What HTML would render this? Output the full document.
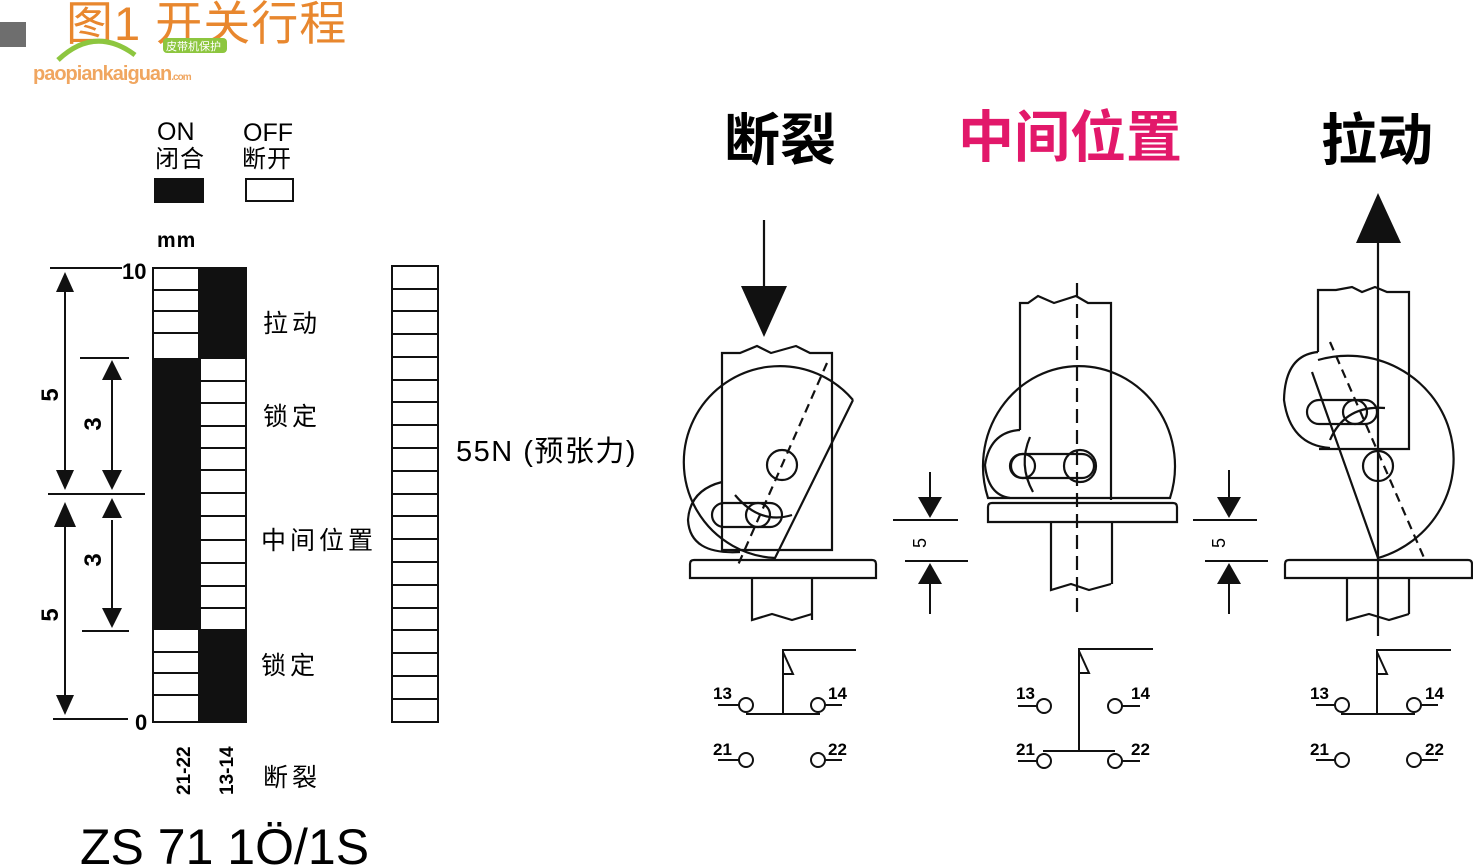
<!DOCTYPE html>
<html><head><meta charset="utf-8"><style>
html,body{margin:0;padding:0;background:#fff;}
svg{display:block;}
text{font-family:"Liberation Sans","Noto Sans CJK SC",sans-serif;}
</style></head><body>
<svg width="1473" height="866" viewBox="0 0 1473 866" xmlns="http://www.w3.org/2000/svg">
<!-- header -->
<rect x="0" y="22" width="26" height="25" fill="#6e6e6e"/>
<text x="66" y="40" font-size="47" fill="#e8872e" letter-spacing="1">图1 开关行程</text>
<path d="M58 60 Q95 25 135 55" fill="none" stroke="#8dc63f" stroke-width="5"/>
<rect x="163" y="38" width="64" height="15" rx="4" fill="#8dc63f"/>
<text x="166" y="50" font-size="11" fill="#fff">皮带机保护</text>
<text x="33" y="80" font-size="20" font-weight="bold" fill="#f0a660" letter-spacing="-1">paopiankaiguan<tspan font-size="10">.com</tspan></text>

<!-- legend -->
<text x="157" y="140" font-size="25">ON</text>
<text x="243" y="141" font-size="25">OFF</text>
<text x="155" y="167" font-size="24" letter-spacing="1">闭合</text>
<text x="242" y="167" font-size="24" letter-spacing="1">断开</text>
<rect x="154" y="178" width="50" height="25" fill="#111"/>
<rect x="246" y="179" width="47" height="22" fill="none" stroke="#111" stroke-width="2"/>
<text x="157" y="247" font-size="21" font-weight="bold" letter-spacing="1">mm</text>

<g stroke="#111" stroke-width="2" fill="none">
<rect x="153" y="268" width="46" height="454"/>
<rect x="199" y="268" width="47" height="454"/>
<line x1="153" y1="290" x2="199" y2="290"/><line x1="153" y1="311" x2="199" y2="311"/><line x1="153" y1="333" x2="199" y2="333"/>
<line x1="153" y1="652" x2="199" y2="652"/><line x1="153" y1="673" x2="199" y2="673"/><line x1="153" y1="695" x2="199" y2="695"/>
</g>
<rect x="153" y="358" width="48" height="272" fill="#111"/>
<rect x="199" y="268" width="48" height="91" fill="#111"/>
<rect x="199" y="629" width="48" height="94" fill="#111"/>
<g stroke="#111" stroke-width="2">
<line x1="201" y1="381" x2="246" y2="381"/><line x1="201" y1="403" x2="246" y2="403"/><line x1="201" y1="426" x2="246" y2="426"/>
<line x1="201" y1="448" x2="246" y2="448"/><line x1="201" y1="470" x2="246" y2="470"/><line x1="201" y1="493" x2="246" y2="493"/>
<line x1="201" y1="516" x2="246" y2="516"/><line x1="201" y1="540" x2="246" y2="540"/><line x1="201" y1="563" x2="246" y2="563"/>
<line x1="201" y1="586" x2="246" y2="586"/><line x1="201" y1="608" x2="246" y2="608"/>
</g>
<g stroke="#111" stroke-width="2" fill="none">
<rect x="392" y="266" width="46" height="456"/>
<path d="M392 289h46M392 311h46M392 334h46M392 357h46M392 380h46M392 402h46M392 425h46M392 448h46M392 471h46M392 494h46M392 516h46M392 539h46M392 562h46M392 585h46M392 608h46M392 630h46M392 653h46M392 676h46M392 699h46"/>
</g>
<g stroke="#111" stroke-width="2">
<line x1="50" y1="268" x2="122" y2="268"/>
<line x1="48" y1="494" x2="145" y2="494"/>
<line x1="53" y1="719" x2="128" y2="719"/>
<line x1="80" y1="358" x2="129" y2="358"/>
<line x1="82" y1="631" x2="129" y2="631"/>
<line x1="65" y1="290" x2="65" y2="470"/>
<line x1="65" y1="525" x2="65" y2="698"/>
<line x1="112" y1="378" x2="112" y2="470"/>
<line x1="112" y1="520" x2="112" y2="610"/>
</g>
<g fill="#111">
<polygon points="65,272 56,292 74,292"/><polygon points="65,490 56,470 74,470"/>
<polygon points="65,502 54,527 76,527"/><polygon points="65,715 56,695 74,695"/>
<polygon points="112,360 102,380 122,380"/><polygon points="112,490 102,470 122,470"/>
<polygon points="112,498 102,518 122,518"/><polygon points="112,628 102,608 122,608"/>
</g>
<text x="122" y="279" font-size="22" font-weight="bold">10</text>
<text x="135" y="730" font-size="22" font-weight="bold">0</text>
<text transform="translate(58,395) rotate(-90)" font-size="24" font-weight="bold" text-anchor="middle">5</text>
<text transform="translate(58,615) rotate(-90)" font-size="24" font-weight="bold" text-anchor="middle">5</text>
<text transform="translate(101,424) rotate(-90)" font-size="24" font-weight="bold" text-anchor="middle">3</text>
<text transform="translate(101,560) rotate(-90)" font-size="24" font-weight="bold" text-anchor="middle">3</text>
<text transform="translate(190,795) rotate(-90)" font-size="19" font-weight="bold">21-22</text>
<text transform="translate(233,795) rotate(-90)" font-size="19" font-weight="bold">13-14</text>
<g font-size="25" letter-spacing="4">
<text x="263" y="332">拉动</text>
<text x="263" y="425">锁定</text>
<text x="261" y="549">中间位置</text>
<text x="261" y="674">锁定</text>
<text x="263" y="786">断裂</text>
</g>
<text x="456" y="461" font-size="29" letter-spacing="1.5">55N (预张力)</text>
<text x="80" y="864" font-size="50">ZS 71 1Ö/1S</text>

<!-- headings -->
<text x="780" y="160" font-size="56" font-weight="bold" text-anchor="middle">断裂</text>
<text x="1070" y="157" font-size="56" font-weight="bold" text-anchor="middle" fill="#e2186a">中间位置</text>
<text x="1377" y="160" font-size="56" font-weight="bold" text-anchor="middle">拉动</text>

<!-- mechanism 1 -->
<g stroke="#111" stroke-width="2.2" fill="none">
<line x1="764" y1="220" x2="764" y2="290"/>
<path d="M722 550V353h18l17-7 14 7 25-7 14 7h22v197z"/>
<path d="M853 400A96 96 0 1 0 775 558L853 400"/>
<path d="M722 482Q690 490 688 520Q690 555 740 552"/>
<rect x="712" y="503" width="70" height="24" rx="12"/>
<circle cx="758" cy="515" r="12"/>
<circle cx="782" cy="465" r="15"/>
<path d="M735 495Q760 525 792 515"/>
<line x1="827" y1="363" x2="738" y2="565" stroke-dasharray="9,6"/>
<path d="M690 578v-14q0-4 4-4h178q4 0 4 4v14z"/>
<path d="M752 578v42l20-6 20 6 20-6M812 578v42"/>
</g>
<polygon points="741,286 787,286 764,337" fill="#111"/>

<g stroke="#111" stroke-width="2">
<line x1="893" y1="520" x2="958" y2="520"/><line x1="905" y1="561" x2="968" y2="561"/>
<line x1="930" y1="472" x2="930" y2="500"/><line x1="930" y1="582" x2="930" y2="614"/>
<line x1="1193" y1="520" x2="1257" y2="520"/><line x1="1205" y1="561" x2="1268" y2="561"/>
<line x1="1229" y1="470" x2="1229" y2="500"/><line x1="1229" y1="582" x2="1229" y2="614"/>
</g>
<g fill="#111">
<polygon points="918,497 942,497 930,518"/><polygon points="918,584 942,584 930,563"/>
<polygon points="1217,497 1241,497 1229,518"/><polygon points="1217,584 1241,584 1229,563"/>
</g>
<text transform="translate(926,543) rotate(-90)" font-size="18" text-anchor="middle">5</text>
<text transform="translate(1225,543) rotate(-90)" font-size="18" text-anchor="middle">5</text>

<!-- mechanism 2 -->
<g stroke="#111" stroke-width="2.2" fill="none">
<path d="M1020 430V303h8l10-7 16 7 22-7 12 7h23v197"/>
<path d="M988 498A96 100 0 1 1 1170 498Z"/>
<path d="M1020 430Q990 432 985 465Q988 495 1010 498"/>
<rect x="1010" y="454" width="84" height="24" rx="12"/>
<circle cx="1023" cy="466" r="12"/>
<circle cx="1080" cy="466" r="16"/>
<path d="M1030 437Q1018 465 1033 492"/>
<path d="M988 522v-15q0-4 4-4h181q4 0 4 4v15z"/>
<path d="M1051 522v68l20-6 18 6 22-6M1112 522v62"/>
<line x1="1077" y1="283" x2="1077" y2="612" stroke-dasharray="14,7"/>
</g>

<!-- mechanism 3 -->
<g stroke="#111" stroke-width="2.2" fill="none">
<path d="M1318 352V290h18l16-3 10 5 13-5 12 5h22v157h-90"/>
<path d="M1318 352Q1285 355 1284 400Q1290 445 1330 448"/>
<path d="M1312 372L1378 558A92 90 0 1 0 1318 360"/>
<rect x="1307" y="400" width="70" height="24" rx="12"/>
<circle cx="1355" cy="412" r="12"/>
<circle cx="1378" cy="466" r="15"/>
<path d="M1330 440Q1345 405 1385 408"/>
<line x1="1330" y1="342" x2="1425" y2="560" stroke-dasharray="9,6"/>
<path d="M1285 578v-14q0-4 4-4h179q4 0 4 4v14z"/>
<path d="M1347 578v42l22-6 20 6 20-6M1409 578v36"/>
<line x1="1378" y1="240" x2="1378" y2="636"/>
</g>
<polygon points="1356,243 1401,243 1378,193" fill="#111"/>

<!-- contacts -->
<g stroke="#111" stroke-width="2" fill="#fff">
<path d="M783 713V650h73M783 652l10 22h-10" fill="none"/>
<line x1="746" y1="714" x2="820" y2="714"/>
<line x1="718" y1="705" x2="740" y2="705"/><line x1="824" y1="705" x2="842" y2="705"/>
<line x1="718" y1="760" x2="740" y2="760"/><line x1="824" y1="760" x2="842" y2="760"/>
<circle cx="746" cy="705" r="7"/><circle cx="818" cy="705" r="7"/>
<circle cx="746" cy="760" r="7"/><circle cx="818" cy="760" r="7"/>

<path d="M1079 751V649h74M1079 651l10 22h-10" fill="none"/>
<line x1="1043" y1="751" x2="1115" y2="751"/>
<line x1="1018" y1="706" x2="1038" y2="706"/><line x1="1121" y1="706" x2="1140" y2="706"/>
<line x1="1018" y1="761" x2="1038" y2="761"/><line x1="1121" y1="761" x2="1140" y2="761"/>
<circle cx="1044" cy="706" r="7"/><circle cx="1115" cy="706" r="7"/>
<circle cx="1044" cy="761" r="7"/><circle cx="1115" cy="761" r="7"/>

<path d="M1377 713V650h74M1377 652l10 22h-10" fill="none"/>
<line x1="1341" y1="714" x2="1415" y2="714"/>
<line x1="1316" y1="705" x2="1336" y2="705"/><line x1="1421" y1="705" x2="1438" y2="705"/>
<line x1="1316" y1="760" x2="1336" y2="760"/><line x1="1421" y1="760" x2="1438" y2="760"/>
<circle cx="1342" cy="705" r="7"/><circle cx="1414" cy="705" r="7"/>
<circle cx="1342" cy="760" r="7"/><circle cx="1414" cy="760" r="7"/>
</g>
<g font-size="17" font-weight="bold">
<text x="713" y="699">13</text><text x="828" y="699">14</text>
<text x="713" y="755">21</text><text x="828" y="755">22</text>
<text x="1016" y="699">13</text><text x="1131" y="699">14</text>
<text x="1016" y="755">21</text><text x="1131" y="755">22</text>
<text x="1310" y="699">13</text><text x="1425" y="699">14</text>
<text x="1310" y="755">21</text><text x="1425" y="755">22</text>
</g>
</svg>
</body></html>
